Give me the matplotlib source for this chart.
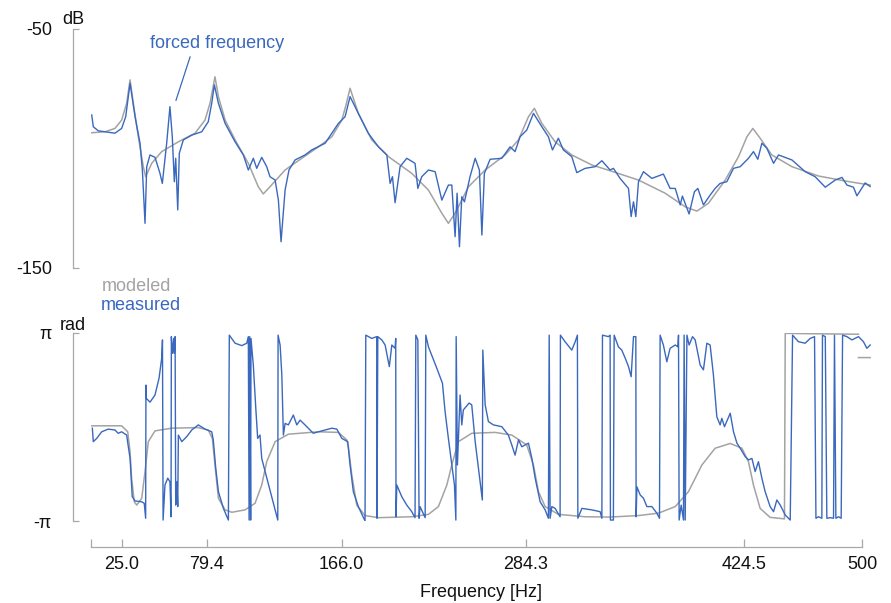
import numpy as np
import matplotlib
matplotlib.use("Agg")
import matplotlib.pyplot as plt

plt.rcParams['font.family'] = ['Liberation Sans', 'DejaVu Sans']

BLUE = '#3a68be'
GRAY = '#a3a3a3'
SPINE = '#a8a8a8'
FS = 13

# ---- magnitude, modeled (Hz, dB)
mod_mag_f = [5.6, 14.1, 20.5, 24.8, 28.0, 30.2, 32.3, 35.5, 38.7, 40.2, 44.1, 50.5, 61.2,
             71.9, 78.3, 81.5, 84.7, 86.9, 91.2, 97.6, 106.1, 112.5, 115.7, 120.0, 129.7,
             140.4, 151.1, 159.7, 166.1, 168.8, 171.4, 176.7, 185.3, 196.0, 211.0, 221.7,
             230.3, 234.5, 238.8, 247.4, 258.1, 270.9, 279.5, 285.9, 289.7, 294.5, 303.0,
             313.7, 326.6, 338.3, 356.5, 373.6, 386.5, 394.0, 401.4, 412.2, 420.7, 426.1,
             429.9, 434.6, 442.1, 455.0, 472.0, 489.2, 505.2]
mod_mag_db = [-93.4, -93.0, -91.6, -88.1, -81.1, -71.3, -81.1, -95.1, -107.6, -111.8, -106.2,
              -101.3, -97.2, -93.6, -88.1, -81.1, -70.0, -78.3, -88.1, -96.4, -106.2, -116.0,
              -119.0, -116.0, -109.0, -104.1, -99.3, -95.1, -88.1, -81.8, -74.8, -85.3, -96.4,
              -103.4, -110.4, -117.4, -127.1, -131.3, -127.1, -116.0, -109.0, -102.7, -96.4,
              -86.7, -83.2, -89.5, -97.2, -102.7, -106.9, -109.3, -113.2, -118.7, -124.4,
              -126.2, -122.9, -113.2, -103.4, -95.1, -91.6, -95.7, -102.7, -107.6, -111.5,
              -113.6, -115.3]

# ---- magnitude, measured (Hz, dB)
meas_mag_f = [5.6, 6.6, 9.8, 20.5, 24.8, 27.4, 30.2, 33.4, 36.6, 38.1, 39.8, 40.9, 43.0, 46.2,
              49.4, 50.9, 53.7, 55.8, 57.3, 58.6, 59.5, 60.8, 61.8, 64.4, 69.8, 76.2, 80.4,
              82.6, 84.3, 86.9, 91.2, 97.6, 102.9, 106.1, 109.3, 111.5, 114.7, 117.9, 120.0,
              123.3, 125.4, 127.1, 129.7, 132.2, 136.1, 142.5, 146.8, 155.4, 163.9, 168.2,
              171.4, 176.7, 183.1, 189.6, 195.0, 197.1, 198.6, 200.3, 203.5, 207.8, 213.1,
              214.9, 217.4, 221.7, 226.0, 230.3, 234.5, 236.7, 238.8, 240.1, 241.6, 243.1,
              244.8, 248.4, 251.7, 254.4, 256.0, 257.6, 261.3, 268.8, 274.1, 277.3, 280.5,
              284.8, 289.1, 294.5, 298.7, 301.3, 305.1, 308.3, 313.7, 316.9, 322.3, 328.7,
              333.0, 338.3, 340.4, 344.7, 350.1, 351.8, 353.3, 354.8, 356.5, 359.7, 365.1,
              372.5, 376.8, 380.1, 383.3, 384.7, 389.0, 392.4, 394.6, 398.2, 402.5, 405.7,
              408.9, 413.2, 417.5, 421.8, 427.1, 430.3, 433.1, 435.7, 438.9, 443.2, 446.4,
              455.0, 463.5, 469.9, 476.4, 482.8, 487.1, 490.3, 494.5, 496.7, 502.0, 505.2]
meas_mag_db = [-86.0, -90.9, -92.6, -93.6, -91.6, -86.7, -72.7, -86.7, -97.8, -109.0, -131.3,
               -107.6, -102.7, -103.7, -110.4, -114.6, -97.8, -82.5, -95.1, -113.9, -104.1,
               -125.7, -102.0, -96.4, -94.4, -93.0, -88.8, -81.1, -73.4, -81.1, -89.5, -97.2,
               -102.7, -109.0, -104.1, -108.3, -103.7, -107.6, -111.8, -113.2, -121.6, -139.0,
               -117.4, -109.0, -104.8, -102.7, -100.6, -97.8, -89.5, -86.7, -78.3, -85.3,
               -93.6, -99.3, -102.7, -114.6, -111.8, -122.7, -107.6, -104.1, -106.2, -116.7,
               -111.8, -109.0, -109.7, -121.6, -115.3, -115.3, -136.9, -118.7, -141.1, -120.2,
               -122.3, -111.8, -104.1, -109.0, -136.2, -110.4, -104.5, -104.1, -99.3, -101.3,
               -95.1, -92.3, -85.3, -90.9, -95.1, -100.6, -95.7, -100.6, -103.4, -110.1,
               -108.3, -107.6, -105.1, -109.0, -108.3, -112.5, -116.7, -128.5, -122.3, -128.5,
               -113.9, -109.7, -112.5, -110.7, -116.7, -116.7, -123.6, -119.9, -127.4, -118.1,
               -116.7, -123.6, -119.5, -116.7, -114.6, -113.9, -108.3, -107.6, -104.1, -101.3,
               -104.5, -97.8, -99.9, -106.2, -102.7, -104.8, -109.7, -111.8, -116.2, -113.2,
               -112.1, -115.3, -116.2, -119.8, -114.4, -115.9]

# ---- phase, modeled (Hz, rad); nan splits the last short piece
mod_ph_f = [5.6, 24.8, 28.7, 30.2, 31.2, 32.9, 34.5, 37.7, 39.8, 41.9, 46.2, 56.9, 74.0, 80.4,
            83.0, 84.7, 86.9, 91.2, 95.5, 104.0, 110.4, 114.7, 117.9, 123.3, 131.8, 151.1,
            163.9, 169.3, 170.3, 172.5, 175.7, 181.0, 189.6, 211.0, 221.7, 228.1, 233.5,
            236.7, 240.9, 249.5, 264.5, 275.2, 284.8, 289.1, 292.3, 296.6, 305.1, 322.3,
            338.3, 356.5, 369.3, 380.1, 388.6, 397.2, 405.7, 415.4, 422.9, 427.1, 430.3,
            434.6, 441.0, 450.2, 450.7, 463.5, 497.7, np.nan, 497.7, 505.2]
mod_ph = [0.04, 0.04, -0.16, -0.83, -1.71, -2.50, -2.61, -2.38, -1.49, -0.49, -0.13, -0.04,
          -0.02, -0.10, -0.38, -1.27, -2.38, -2.77, -2.85, -2.77, -2.55, -1.94, -1.16, -0.49,
          -0.24, -0.16, -0.18, -0.43, -0.66, -1.60, -2.61, -2.96, -3.03, -3.00, -2.92, -2.66,
          -1.94, -1.27, -0.49, -0.21, -0.18, -0.27, -0.60, -1.27, -2.16, -2.66, -2.92, -3.00,
          -3.01, -2.96, -2.88, -2.66, -2.16, -1.27, -0.71, -0.55, -0.71, -1.16, -1.94, -2.72,
          -3.02, -3.07, 3.13, 3.12, 3.10, np.nan, 2.32, 2.32]

# ---- phase, measured (Hz, rad)
meas_ph_f = [6.0, 6.6, 8.8, 12.0, 16.2, 20.5, 22.6, 24.8, 28.0, 30.2, 31.6, 33.4, 37.7, 39.3,
             40.2, 40.4, 40.6, 43.0, 46.2, 48.8, 50.5, 51.0, 51.4, 52.6, 54.4, 55.8, 56.5,
             56.7, 57.3, 58.2, 58.6, 59.1, 59.5, 60.3, 60.8, 61.2, 63.4, 66.6, 69.8, 74.0,
             78.3, 82.6, 83.6, 85.2, 86.9, 90.1, 93.3, 93.9, 97.6, 101.9, 105.1, 106.1, 106.6,
             107.0, 107.6, 107.8, 109.3, 110.9, 112.1, 113.6, 114.7, 125.0, 125.2, 126.5,
             127.6, 128.6, 129.7, 131.8, 135.0, 137.2, 139.3, 142.5, 147.8, 151.1, 159.7,
             162.9, 166.1, 169.9, 171.4, 173.5, 176.7, 181.0, 181.5, 185.3, 188.5, 188.7,
             189.2, 191.8, 193.9, 196.6, 198.2, 200.3, 200.7, 200.9, 201.4, 204.6, 207.8,
             211.0, 213.1, 213.6, 214.9, 215.7, 216.3, 219.6, 220.0, 221.7, 224.2, 227.1,
             230.7, 232.4, 234.5, 236.7, 238.4, 239.3, 239.5, 240.3, 242.0, 243.1, 244.1,
             247.8, 249.5, 251.7, 253.8, 256.3, 256.6, 258.1, 260.2, 263.4, 268.8, 273.0,
             275.2, 277.3, 279.5, 281.6, 285.9, 288.1, 290.2, 293.4, 296.6, 298.7, 299.2,
             299.8, 300.9, 303.0, 306.2, 306.4, 309.4, 313.7, 315.9, 317.3, 317.6, 320.2,
             326.6, 331.9, 333.0, 333.4, 337.2, 338.3, 338.5, 340.4, 340.9, 343.6, 345.8,
             348.0, 350.1, 351.8, 353.3, 354.8, 355.0, 355.5, 357.6, 359.7, 361.9, 365.1,
             368.3, 370.0, 370.4, 372.5, 374.7, 376.8, 380.1, 381.8, 382.2, 382.6, 383.9,
             385.4, 385.8, 386.5, 387.6, 389.0, 391.2, 392.9, 396.1, 398.2, 400.4, 402.5,
             404.6, 406.8, 408.9, 410.0, 411.7, 415.4, 417.5, 419.7, 421.8, 425.0, 427.1,
             429.3, 431.4, 433.5, 435.7, 437.8, 441.0, 443.2, 445.3, 447.5, 450.7, 453.9,
             455.4, 459.2, 463.5, 466.7, 469.5, 470.4, 472.0, 474.2, 474.6, 476.4, 477.4,
             479.6, 481.7, 482.3, 483.2, 484.9, 486.6, 487.5, 490.3, 493.5, 497.7, 500.9,
             503.1, 505.2]
meas_ph = [-0.04, -0.49, -0.38, -0.16, -0.07, -0.10, -0.21, -0.16, -0.27, -1.05, -2.33, -2.47,
           -2.50, -2.55, -3.05, 1.40, 0.96, 0.83, 1.07, 1.63, 2.30, 2.91, -3.11, -1.94, -1.71,
           -1.83, -3.00, 3.02, 2.46, 2.96, 2.46, 3.02, -2.61, -1.83, -2.66, -0.27, -0.49,
           -0.32, -0.10, 0.07, -0.07, -0.16, -0.43, -1.38, -2.16, -2.72, -3.11, 3.07, 2.80,
           2.72, 2.80, 3.02, -3.11, 3.02, -3.11, 2.96, 2.07, 0.62, -0.38, -0.27, -1.05, -3.11,
           3.07, 2.74, 1.74, -0.27, 0.12, 0.07, 0.40, 0.07, 0.23, 0.07, -0.21, -0.16, -0.04,
           -0.07, -0.38, -0.49, -1.27, -2.16, -2.66, -3.14, 3.07, 2.96, 3.02, -3.05, 3.02,
           2.91, 2.74, 2.02, 2.74, 2.63, 2.96, -3.00, -1.94, -2.33, -2.61, -2.83, -3.03, 3.07,
           2.91, -3.05, -2.66, -3.03, 3.07, 2.68, 2.35, 1.96, 1.46, 0.51, -0.38, -1.27, -1.94,
           -3.11, 3.02, -1.27, 1.07, 0.07, 0.57, 0.80, 0.74, -0.49, -1.38, -2.44, 2.57, 0.74,
           0.18, 0.07, 0.01, -0.27, -0.60, -0.94, -0.43, -0.66, -0.54, -1.05, -1.71, -2.50,
           -2.77, -3.05, 3.07, -3.05, -2.66, -2.72, -3.00, 3.07, 2.85, 2.57, 2.85, 3.07, -3.05,
           -2.72, -2.77, -2.83, -3.05, 3.07, 3.02, 3.07, -3.11, -3.11, 3.07, 2.68, 2.57, 2.30,
           2.02, 1.68, 3.02, 3.02, -3.00, -2.00, -2.27, -2.38, -2.66, -2.66, -2.88, -3.05, 3.07,
           2.74, 2.18, 2.63, 2.74, 2.68, 3.07, -3.11, -2.61, -3.11, 3.07, -3.11, 3.07, 2.74,
           3.02, 2.91, 2.07, 1.91, 2.80, 2.74, 1.74, 0.34, 0.07, 0.29, 0.01, 0.46, -0.16,
           -0.54, -0.71, -0.99, -1.10, -1.05, -1.49, -1.16, -1.71, -2.16, -2.66, -2.83, -2.44,
           -2.61, -2.94, -3.11, 3.07, 2.85, 2.80, 2.96, 3.02, -3.05, -3.00, -3.05, 3.07, 3.02,
           -3.05, -3.03, -3.05, 3.07, -3.05, -3.00, -3.05, 3.07, 3.02, 2.91, 3.02, 2.85, 2.63,
           2.74]

freq_ticks = [5.3, 25.0, 79.4, 166.0, 284.3, 424.5, 500.0]
freq_labels = ['', '25.0', '79.4', '166.0', '284.3', '424.5', '500']

W, H = 891, 603
fig = plt.figure(figsize=(W / 100, H / 100), dpi=100)

x0, x1 = 90.8 / W, 871.4 / W
ax1 = fig.add_axes([x0, 1 - 268 / H, x1 - x0, 239 / H])
ax2 = fig.add_axes([x0, 1 - 521 / H, x1 - x0, 188 / H])

ax1.plot(mod_mag_f, mod_mag_db, color=GRAY, lw=1.1)
ax1.plot(meas_mag_f, meas_mag_db, color=BLUE, lw=1.0)
ax2.plot(mod_ph_f, mod_ph, color=GRAY, lw=1.1)
ax2.plot(meas_ph_f, meas_ph, color=BLUE, lw=1.0)

for ax in (ax1, ax2):
    ax.set_xlim(5, 506)
    for s in ('top', 'right'):
        ax.spines[s].set_visible(False)
    ax.spines['left'].set_position(('outward', 13))
    ax.spines['left'].set_color(SPINE)
    ax.spines['left'].set_linewidth(0.9)
    ax.tick_params(axis='y', direction='in', length=4, width=0.9, color=SPINE,
                   pad=15, labelsize=FS, labelcolor='#111111')

ax1.set_ylim(-150, -50)
ax1.spines['bottom'].set_visible(False)
ax1.set_xticks([])
ax1.set_yticks([-50, -150])
ax1.set_yticklabels(['-50', '-150'])
ax1.spines['left'].set_bounds(-150, -50)

ax2.set_ylim(-np.pi, np.pi)
ax2.set_yticks([np.pi, -np.pi])
ax2.set_yticklabels(['π', '-π'])
ax2.spines['left'].set_bounds(-np.pi, np.pi)
ax2.spines['bottom'].set_position(('outward', 19))
ax2.spines['bottom'].set_color(SPINE)
ax2.spines['bottom'].set_linewidth(0.9)
ax2.spines['bottom'].set_bounds(freq_ticks[0], freq_ticks[-1])
ax2.set_xticks(freq_ticks)
ax2.set_xticklabels(freq_labels)
ax2.tick_params(axis='x', direction='in', length=6, width=0.9, color=SPINE,
                pad=6, labelsize=FS, labelcolor='#111111')
ax2.set_xlabel('Frequency [Hz]', fontsize=FS, color='#111111', labelpad=8)

# unit labels
fig.text(62 / W, 1 - 19 / H, 'dB', fontsize=FS, va='center', ha='left', color='#111111')
fig.text(60 / W, 1 - 325 / H, 'rad', fontsize=FS, va='center', ha='left', color='#111111')

# legend as coloured text
fig.text(102 / W, 1 - 287 / H, 'modeled', fontsize=FS, va='center', ha='left', color=GRAY)
fig.text(101 / W, 1 - 306 / H, 'measured', fontsize=FS, va='center', ha='left', color=BLUE)

# forced frequency note
ax1.text(86.0, -55.9, 'forced frequency', fontsize=FS, color=BLUE, ha='center', va='center')
ax1.annotate('', xy=(59.1, -81.0), xytext=(69.3, -60.5),
             arrowprops=dict(arrowstyle='-', color=BLUE, lw=0.9))

fig.savefig('out.png', dpi=100)
